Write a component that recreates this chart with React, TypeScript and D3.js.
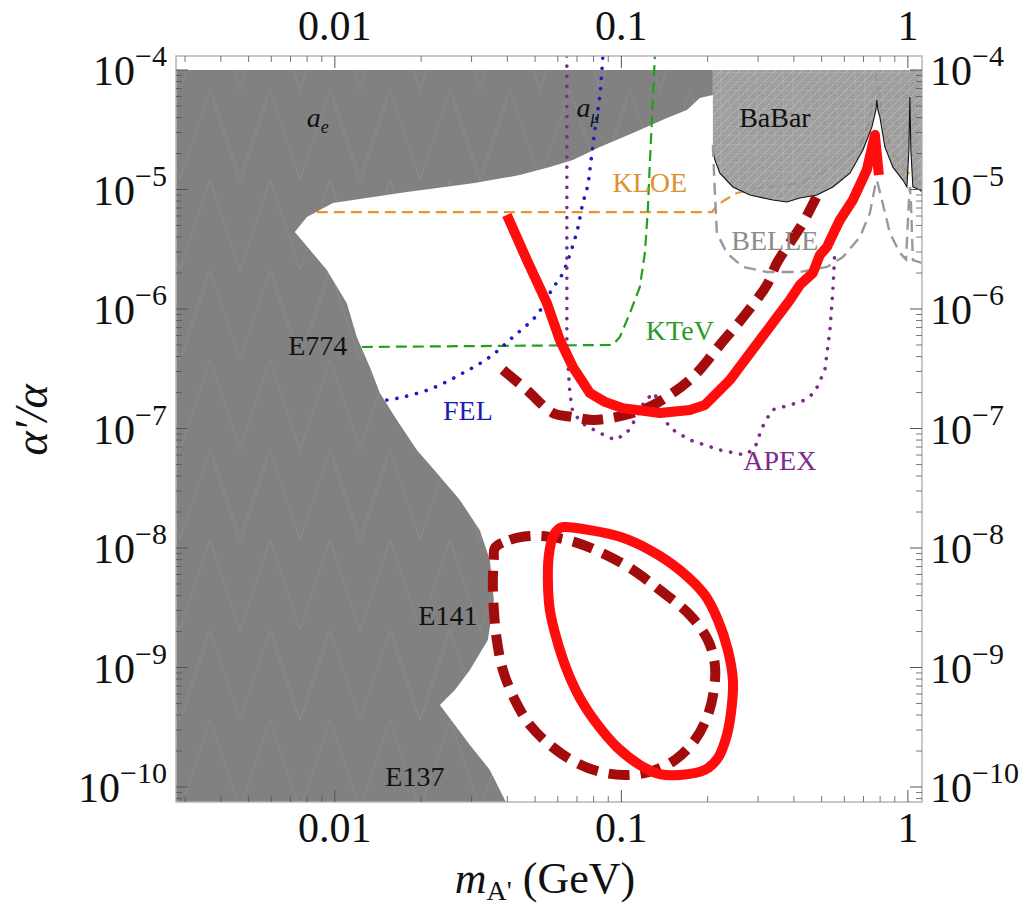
import React from 'react';
import * as d3 from 'd3';

type P = [number, number];

const W = 1034;
const H = 915;
const FRAME = { left: 176, right: 922, top: 56, bottom: 802 };

// axis domains (GeV, alpha'/alpha)
const X_DOMAIN: P = [0.00279, 1.12];
const Y_DOMAIN: P = [7.49e-11, 1.31e-4];

const xMajorTicks = [0.01, 0.1, 1];
const xTickLabels = ['0.01', '0.1', '1'];
const yMajorExponents = [-4, -5, -6, -7, -8, -9, -10];

// excluded dark-gray region (a_e, a_mu, E774, E141, E137)
const excludedRegion: P[] = [
  [0.00279, 1e-4], [0.2086, 1e-4], [0.2086, 6.18e-5], [0.1879, 5.83e-5], [0.1693, 4.63e-5],
  [0.1442, 3.97e-5], [0.1097, 2.97e-5], [0.08414, 2.27e-5], [0.06771, 1.77e-5], [0.05629, 1.54e-5],
  [0.04421, 1.32e-5], [0.03032, 1.13e-5], [0.01784, 9.53e-6], [0.00984, 7.71e-6], [0.00799, 5.89e-6],
  [0.00725, 4.41e-6], [0.00938, 2.12e-6], [0.01101, 1.12e-6], [0.01193, 5.83e-7], [0.01325, 3.27e-7],
  [0.01436, 1.98e-7], [0.01646, 1.18e-7], [0.01933, 6.61e-8], [0.0227, 4.24e-8], [0.02731, 2.52e-8],
  [0.03207, 1.41e-8], [0.03475, 7.93e-9], [0.03589, 3.67e-9], [0.0342, 1.7e-9], [0.0296, 9.53e-10],
  [0.02623, 6.48e-10], [0.02326, 4.86e-10], [0.0296, 2.25e-10], [0.03475, 1.39e-10], [0.03953, 7.49e-11],
  [0.00279, 7.49e-11],
];

// BaBar excluded region
const babarRegion: P[] = [
  [0.2086, 1e-4], [0.2086, 2.14e-5], [0.212, 1.77e-5], [0.2207, 1.37e-5], [0.245, 1.05e-5],
  [0.2809, 8.99e-6], [0.3379, 8.17e-6], [0.3782, 7.86e-6], [0.4198, 8.49e-6], [0.4812, 8.99e-6],
  [0.5473, 1.05e-5], [0.6276, 1.37e-5], [0.6966, 2.14e-5], [0.7486, 3.33e-5], [0.7732, 4.63e-5],
  [0.7794, 5.61e-5], [0.7857, 4.63e-5], [0.7985, 4.04e-5], [0.8312, 2.27e-5], [0.8864, 1.54e-5],
  [0.9605, 1.2e-5], [0.992, 1.05e-5], [1.008, 2.14e-5], [1.016, 5.94e-5], [1.024, 2.14e-5],
  [1.041, 1.05e-5], [1.101, 9.9e-6], [1.12, 9.53e-6], [1.12, 1e-4],
];

const kloe: P[] = [
  [0.00865, 6.48e-6], [0.207, 6.48e-6], [0.2172, 7.42e-6], [0.2298, 8.17e-6], [0.253, 9.35e-6],
  [0.3044, 1.03e-5], [0.4198, 1.13e-5], [0.5473, 1.54e-5], [0.68, 2.27e-5], [0.7367, 3.82e-5],
  [0.7732, 9.08e-5], [0.7985, 5.61e-5], [0.8312, 3.15e-5], [0.8864, 2.02e-5], [0.9761, 1.46e-5],
  [1.12, 1.09e-5],
];

const belle: P[] = [
  [0.2086, 2.36e-5], [0.212, 9.35e-6], [0.2154, 4.33e-6], [0.2335, 2.94e-6], [0.2655, 2.25e-6],
  [0.322, 2.04e-6], [0.4198, 2.04e-6], [0.5216, 2.25e-6], [0.5931, 2.72e-6], [0.68, 4.0e-6],
  [0.7367, 6.36e-6], [0.767, 1.05e-5], [0.7794, 1.2e-5], [0.8113, 8.17e-6], [0.8654, 4.33e-6],
  [0.9376, 2.94e-6], [0.985, 2.6e-6], [1.008, 8.0e-6], [1.016, 1.05e-5], [1.024, 8.0e-6],
  [1.041, 2.57e-6], [1.12, 2.43e-6],
];

const ktev: P[] = [
  [0.01242, 4.81e-7], [0.09339, 5.0e-7], [0.0988, 5.83e-7], [0.1071, 9.26e-7], [0.116, 1.53e-6],
  [0.1208, 2.94e-6], [0.1237, 6.74e-6], [0.1257, 1.67e-5], [0.1278, 3.82e-5], [0.1309, 1.31e-4],
];

const fel: P[] = [
  [0.01519, 1.73e-7], [0.01727, 1.83e-7], [0.02198, 2.18e-7], [0.02797, 2.91e-7], [0.03475, 3.97e-7],
  [0.04182, 5.83e-7], [0.05072, 8.91e-7], [0.05767, 1.5e-6], [0.06199, 1.93e-6], [0.06993, 4.41e-6],
  [0.07339, 7.71e-6], [0.07638, 1.09e-5], [0.07762, 1.46e-5], [0.0808, 3.15e-5], [0.08414, 6.18e-5],
  [0.08618, 1.31e-4],
];

const apex: P[] = [
  [0.06453, 1.31e-4], [0.06453, 8.17e-6], [0.06453, 4.81e-7], [0.06609, 1.98e-7], [0.06771, 1.35e-7],
  [0.07458, 1.07e-7], [0.08414, 9.17e-8], [0.09491, 8.01e-8], [0.1045, 9.17e-8], [0.1133, 1.25e-7],
  [0.1208, 1.73e-7], [0.1309, 1.98e-7], [0.1363, 1.43e-7], [0.1477, 1.01e-7], [0.1734, 8.01e-8],
  [0.2207, 6.61e-8], [0.2698, 6.0e-8], [0.2924, 6.87e-8], [0.3093, 1.01e-7], [0.3352, 1.43e-7],
  [0.3875, 1.57e-7], [0.4368, 1.73e-7], [0.4735, 2.02e-7], [0.5132, 3.09e-7], [0.5343, 6.67e-7],
  [0.5473, 1.44e-6], [0.5562, 3.12e-6],
];

// projected reach, upper curves
const reachSolid: P[] = [
  [0.03985, 6.12e-6], [0.04679, 2.57e-6], [0.05496, 1.12e-6], [0.061, 5.5e-7], [0.06771, 3.27e-7],
  [0.07762, 1.98e-7], [0.0876, 1.67e-7], [0.1012, 1.48e-7], [0.1363, 1.35e-7], [0.1734, 1.43e-7],
  [0.1956, 1.57e-7], [0.212, 1.91e-7], [0.2392, 2.55e-7], [0.2698, 3.74e-7], [0.3044, 5.5e-7],
  [0.3434, 8.09e-7], [0.3875, 1.19e-6], [0.4198, 1.59e-6], [0.4658, 2.0e-6], [0.4929, 2.83e-6],
  [0.5216, 3.3e-6], [0.5562, 4.58e-6], [0.579, 5.56e-6], [0.6427, 8.17e-6], [0.719, 1.46e-5],
  [0.767, 2.86e-5], [0.7921, 1.32e-5],
];

const reachDashed: P[] = [
  [0.03859, 3.09e-7], [0.04679, 2.1e-7], [0.05767, 1.35e-7], [0.06771, 1.25e-7], [0.07953, 1.18e-7],
  [0.09645, 1.25e-7], [0.1227, 1.48e-7], [0.1477, 1.91e-7], [0.1805, 2.8e-7], [0.2207, 5.0e-7],
  [0.2698, 8.91e-7], [0.322, 1.59e-6], [0.349, 2.43e-6], [0.3875, 3.57e-6], [0.4298, 5.24e-6],
  [0.4735, 8.17e-6], [0.4929, 9.9e-6],
];

// projected reach, lower closed contours
const loopSolid: P[] = [
  [0.0635, 1.5e-8], [0.07762, 1.41e-8], [0.0988, 1.24e-8], [0.1257, 9.62e-9], [0.16, 6.54e-9],
  [0.1956, 4.04e-9], [0.2172, 2.5e-9], [0.2353, 1.4e-9], [0.245, 7.86e-10], [0.243, 4.86e-10],
  [0.2335, 2.72e-10], [0.2172, 1.75e-10], [0.1956, 1.39e-10], [0.16, 1.26e-10], [0.1363, 1.28e-10],
  [0.116, 1.53e-10], [0.09723, 2.12e-10], [0.08279, 3.3e-10], [0.07163, 5.56e-10], [0.06453, 9.53e-10],
  [0.05955, 1.7e-9], [0.05629, 3.03e-9], [0.0554, 5.4e-9], [0.05585, 8.74e-9], [0.05767, 1.24e-8],
  [0.061, 1.47e-8],
];

const loopDashed: P[] = [
  [0.03618, 1.0e-8], [0.04082, 1.17e-8], [0.04795, 1.26e-8], [0.05629, 1.24e-8], [0.06881, 1.12e-8],
  [0.08414, 9.26e-9], [0.1071, 6.8e-9], [0.1363, 4.45e-9], [0.1734, 2.75e-9], [0.2004, 1.7e-9],
  [0.212, 1.05e-9], [0.2103, 6.48e-10], [0.2004, 4.0e-10], [0.1805, 2.47e-10], [0.1537, 1.68e-10],
  [0.1257, 1.34e-10], [0.1028, 1.26e-10], [0.08414, 1.34e-10], [0.06881, 1.62e-10], [0.05629, 2.25e-10],
  [0.04795, 3.3e-10], [0.04249, 5.35e-10], [0.03859, 9.53e-10], [0.03676, 1.7e-9], [0.03589, 3.03e-9],
  [0.03559, 5.4e-9], [0.03589, 7.93e-9],
];

type Ann = { text: string; sub?: string; x: number; y: number; color: string; italic?: boolean };
const annotations: Ann[] = [
  { text: 'a', sub: 'e', x: 0.00872, y: 4.04e-5, color: '#111', italic: true },
  { text: 'a', sub: 'μ', x: 0.0765, y: 4.9e-5, color: '#111', italic: true },
  { text: 'BaBar', x: 0.3434, y: 4.04e-5, color: '#111' },
  { text: 'KLOE', x: 0.1257, y: 1.16e-5, color: '#e0902e' },
  { text: 'BELLE', x: 0.3434, y: 3.78e-6, color: '#8c8c8c' },
  { text: 'KTeV', x: 0.16, y: 6.67e-7, color: '#2a9a2a' },
  { text: 'E774', x: 0.00872, y: 5.0e-7, color: '#111' },
  { text: 'FEL', x: 0.02912, y: 1.43e-7, color: '#1c1cb4' },
  { text: 'APEX', x: 0.3574, y: 5.45e-8, color: '#7d2a8c' },
  { text: 'E141', x: 0.0248, y: 2.75e-9, color: '#111' },
  { text: 'E137', x: 0.01902, y: 1.24e-10, color: '#111' },
];

const FONT = '"Liberation Serif", "Times New Roman", serif';

export default function App() {
  const x = d3.scaleLog().domain(X_DOMAIN).range([FRAME.left, FRAME.right]);
  const y = d3.scaleLog().domain(Y_DOMAIN).range([FRAME.bottom, FRAME.top]);

  const line = d3.line<P>().x((d) => x(d[0])).y((d) => y(d[1]));
  const smooth = d3.line<P>().x((d) => x(d[0])).y((d) => y(d[1])).curve(d3.curveCatmullRom.alpha(0.5));
  const loop = d3.line<P>().x((d) => x(d[0])).y((d) => y(d[1])).curve(d3.curveCatmullRomClosed.alpha(0.5));
  const area = (pts: P[]) => line(pts) + 'Z';

  // minor ticks
  const xMinor: number[] = [];
  for (let e = -3; e <= 0; e++) for (let k = 2; k <= 9; k++) {
    const v = k * Math.pow(10, e);
    if (v >= X_DOMAIN[0] && v <= X_DOMAIN[1]) xMinor.push(v);
  }
  const yMinor: number[] = [];
  for (let e = -11; e <= -4; e++) for (let k = 2; k <= 9; k++) {
    const v = k * Math.pow(10, e);
    if (v >= Y_DOMAIN[0] && v <= Y_DOMAIN[1]) yMinor.push(v);
  }

  const tickColor = '#555';
  const MAJ = 12;
  const MIN = 6;

  return (
    <svg width={W} height={H} style={{ position: 'absolute', left: 0, top: 0, background: '#fff' }} fontFamily={FONT}>
      <defs>
        <clipPath id="plotClip">
          <rect x={FRAME.left} y={FRAME.top} width={FRAME.right - FRAME.left} height={FRAME.bottom - FRAME.top} />
        </clipPath>
        <pattern id="babarHatch" width="9" height="9" patternUnits="userSpaceOnUse">
          <rect width="9" height="9" fill="#939393" />
          <path d="M0 9 L9 0" stroke="#b4b4b4" strokeWidth="0.9" />
          <path d="M0 0 L0 9 M0 0 L9 0" stroke="#ababab" strokeWidth="0.9" />
        </pattern>
        <pattern id="meshGray" width="60" height="90" patternUnits="userSpaceOnUse">
          <rect width="60" height="90" fill="#818181" />
          <path d="M0 90 L30 0 L60 90" stroke="#929292" strokeWidth="0.6" fill="none" />
        </pattern>
      </defs>

      <g clipPath="url(#plotClip)">
        <path d={area(excludedRegion)} fill="url(#meshGray)" stroke="none" />
        <path d={line(kloe) ?? ''} fill="none" stroke="#e8942a" strokeWidth={2.2} strokeDasharray="11 6" />
        <path d={area(babarRegion)} fill="url(#babarHatch)" fillOpacity={0.9} stroke="none" />
        <path d={line(babarRegion.slice(1, babarRegion.length - 1)) ?? ''} fill="none" stroke="#111" strokeWidth={1.1} />
        <path d={line(belle) ?? ''} fill="none" stroke="#999" strokeWidth={2.4} strokeDasharray="12 7" />
        <path d={line(ktev) ?? ''} fill="none" stroke="#22a022" strokeWidth={2.2} strokeDasharray="11 6" />
        <path d={smooth(fel) ?? ''} fill="none" stroke="#1c1cc0" strokeWidth={3.6} strokeDasharray="0.1 10" strokeLinecap="round" />
        <path d={line(apex) ?? ''} fill="none" stroke="#7d2a8c" strokeWidth={3.6} strokeDasharray="0.1 10" strokeLinecap="round" />
        <path d={smooth(reachDashed) ?? ''} fill="none" stroke="#a30c0c" strokeWidth={10} strokeDasharray="21 11" />
        <path d={loop(loopDashed) ?? ''} fill="none" stroke="#a30c0c" strokeWidth={10} strokeDasharray="21 11" />
        <path d={line(reachSolid) ?? ''} fill="none" stroke="#ff0d0d" strokeWidth={10} strokeLinejoin="round" />
        <path d={loop(loopSolid) ?? ''} fill="none" stroke="#ff0d0d" strokeWidth={10} />

        {annotations.map((a, i) => (
          <text key={i} x={x(a.x)} y={y(a.y)} dy="0.35em" textAnchor="middle" fontSize={28} fill={a.color}
            fontStyle={a.italic ? 'italic' : 'normal'}>
            {a.text}
            {a.sub ? <tspan fontSize={18} dy="6">{a.sub}</tspan> : null}
          </text>
        ))}
      </g>

      {/* frame */}
      <rect x={FRAME.left} y={FRAME.top} width={FRAME.right - FRAME.left} height={FRAME.bottom - FRAME.top}
        fill="none" stroke="#b5b5b5" strokeWidth={1.5} />

      {/* x ticks, bottom and top */}
      {xMajorTicks.map((v) => (
        <g key={'xM' + v} stroke={tickColor} strokeWidth={1}>
          <line x1={x(v)} x2={x(v)} y1={FRAME.bottom} y2={FRAME.bottom - MAJ} />
          <line x1={x(v)} x2={x(v)} y1={FRAME.top} y2={FRAME.top + MAJ} />
        </g>
      ))}
      {xMinor.map((v) => (
        <g key={'xm' + v} stroke={tickColor} strokeWidth={0.8}>
          <line x1={x(v)} x2={x(v)} y1={FRAME.bottom} y2={FRAME.bottom - MIN} />
          <line x1={x(v)} x2={x(v)} y1={FRAME.top} y2={FRAME.top + MIN} />
        </g>
      ))}
      {xMajorTicks.map((v, i) => (
        <g key={'xl' + v}>
          <text x={x(v)} y={842} textAnchor="middle" fontSize={42} fill="#111">{xTickLabels[i]}</text>
          <text x={x(v)} y={40} textAnchor="middle" fontSize={42} fill="#111">{xTickLabels[i]}</text>
        </g>
      ))}

      {/* y ticks, left and right */}
      {yMajorExponents.map((e) => {
        const v = Math.pow(10, e);
        return (
          <g key={'yM' + e} stroke={tickColor} strokeWidth={1}>
            <line x1={FRAME.left} x2={FRAME.left + MAJ} y1={y(v)} y2={y(v)} />
            <line x1={FRAME.right} x2={FRAME.right - MAJ} y1={y(v)} y2={y(v)} />
          </g>
        );
      })}
      {yMinor.map((v) => (
        <g key={'ym' + v} stroke={tickColor} strokeWidth={0.8}>
          <line x1={FRAME.left} x2={FRAME.left + MIN} y1={y(v)} y2={y(v)} />
          <line x1={FRAME.right} x2={FRAME.right - MIN} y1={y(v)} y2={y(v)} />
        </g>
      ))}
      {yMajorExponents.map((e) => {
        const v = Math.pow(10, e);
        return (
          <g key={'yl' + e} fill="#111">
            <text x={167} y={y(v) + 15} textAnchor="end" fontSize={42}>
              10<tspan fontSize={30} dy={-19}>{'\u2212' + Math.abs(e)}</tspan>
            </text>
            <text x={930} y={y(v) + 15} textAnchor="start" fontSize={42}>
              10<tspan fontSize={30} dy={-19}>{'\u2212' + Math.abs(e)}</tspan>
            </text>
          </g>
        );
      })}

      {/* axis titles */}
      <text x={545} y={893} textAnchor="middle" fontSize={44} fill="#111">
        <tspan fontStyle="italic">m</tspan>
        <tspan fontSize={28} dy={7}>A'</tspan>
        <tspan dy={-7}> (GeV)</tspan>
      </text>
      <text transform="translate(47,420) rotate(-90)" textAnchor="middle" fontSize={46} fill="#111" fontStyle="italic">
        α′/α
      </text>
    </svg>
  );
}
